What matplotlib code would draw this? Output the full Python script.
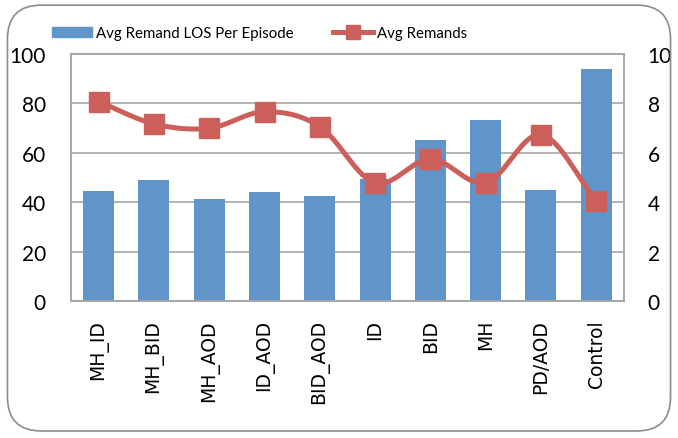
import numpy as np
import matplotlib
matplotlib.use('Agg')
import matplotlib.pyplot as plt
from matplotlib.patches import FancyBboxPatch, Patch
from matplotlib.lines import Line2D

categories = ['MH_ID', 'MH_BID', 'MH_AOD', 'ID_AOD', 'BID_AOD', 'ID', 'BID', 'MH', 'PD/AOD', 'Control']
avg_los = [44.7, 48.8, 41.4, 44.2, 42.6, 49.4, 65.2, 73.4, 44.9, 93.9]
avg_remands = [8.07, 7.17, 6.99, 7.66, 7.06, 4.78, 5.75, 4.78, 6.73, 4.06]

bar_color = '#5F95C9'
line_color = '#CC5F5A'
grid_color = '#A6A6A6'


def catmull_rom(x, y, n=30):
    # smooth line through the points, like Excel's smoothed line
    x = np.asarray(x, float)
    y = np.asarray(y, float)
    px = np.concatenate([[2 * x[0] - x[1]], x, [2 * x[-1] - x[-2]]])
    py = np.concatenate([[2 * y[0] - y[1]], y, [2 * y[-1] - y[-2]]])
    xs, ys = [], []
    t = np.linspace(0, 1, n)
    for i in range(1, len(px) - 2):
        for p, out in ((px, xs), (py, ys)):
            p0, p1, p2, p3 = p[i - 1], p[i], p[i + 1], p[i + 2]
            out.extend(0.5 * (2 * p1 + (-p0 + p2) * t
                              + (2 * p0 - 5 * p1 + 4 * p2 - p3) * t ** 2
                              + (-p0 + 3 * p1 - 3 * p2 + p3) * t ** 3))
    return xs, ys


fig = plt.figure(figsize=(6.78, 4.39), dpi=100)
ax = fig.add_axes([0.1047, 0.312, 0.8155, 0.563])
ax2 = ax.twinx()

# rounded chart border
border = FancyBboxPatch((0.011, 0.016), 0.978, 0.97, boxstyle='round,pad=0,rounding_size=0.05',
                        transform=fig.transFigure, fill=False, edgecolor='#8C8C8C', linewidth=1.2,
                        mutation_aspect=678 / 439)
fig.patches.append(border)

x = np.arange(len(categories))
ax.bar(x, avg_los, width=0.56, color=bar_color, zorder=2)

sx, sy = catmull_rom(x, avg_remands)
ax2.plot(sx, sy, color=line_color, linewidth=3.6, zorder=3, solid_capstyle='round')
ax2.plot(x, avg_remands, linestyle='none', marker='s', markersize=15, color=line_color, zorder=4)

ax.set_xlim(-0.5, len(categories) - 0.5)
ax.set_ylim(0, 100)
ax2.set_ylim(0, 10)
ax.set_yticks(range(0, 101, 20))
ax2.set_yticks(range(0, 11, 2))
ax.yaxis.grid(True, color=grid_color, linewidth=1.2, zorder=0)
ax.set_axisbelow(True)

ax.set_xticks(x)
ax.set_xticklabels(categories, rotation=90, fontsize=13.5, family='DejaVu Sans')
for a in (ax, ax2):
    a.tick_params(axis='y', length=0, labelsize=15)
    for s in a.spines.values():
        s.set_color(grid_color)
        s.set_linewidth(1.2)
    for lab in a.get_yticklabels():
        lab.set_family('Lato')
ax.tick_params(axis='y', pad=18)
ax2.tick_params(axis='y', pad=17)
ax.tick_params(axis='x', length=0, pad=13)

# legend
handles = [Patch(color=bar_color),
           Line2D([], [], color=line_color, linewidth=3.6, marker='s', markersize=9.5)]
fig.legend(handles, ['Avg Remand LOS Per Episode', 'Avg Remands'], loc='center left',
           bbox_to_anchor=(44 / 678, 1 - 34 / 439), ncol=2, frameon=False, borderpad=0,
           columnspacing=2.6, handlelength=2.7, handletextpad=0.26,
           prop={'family': 'Lato', 'size': 10.8})

fig.savefig('out.png', dpi=100)
